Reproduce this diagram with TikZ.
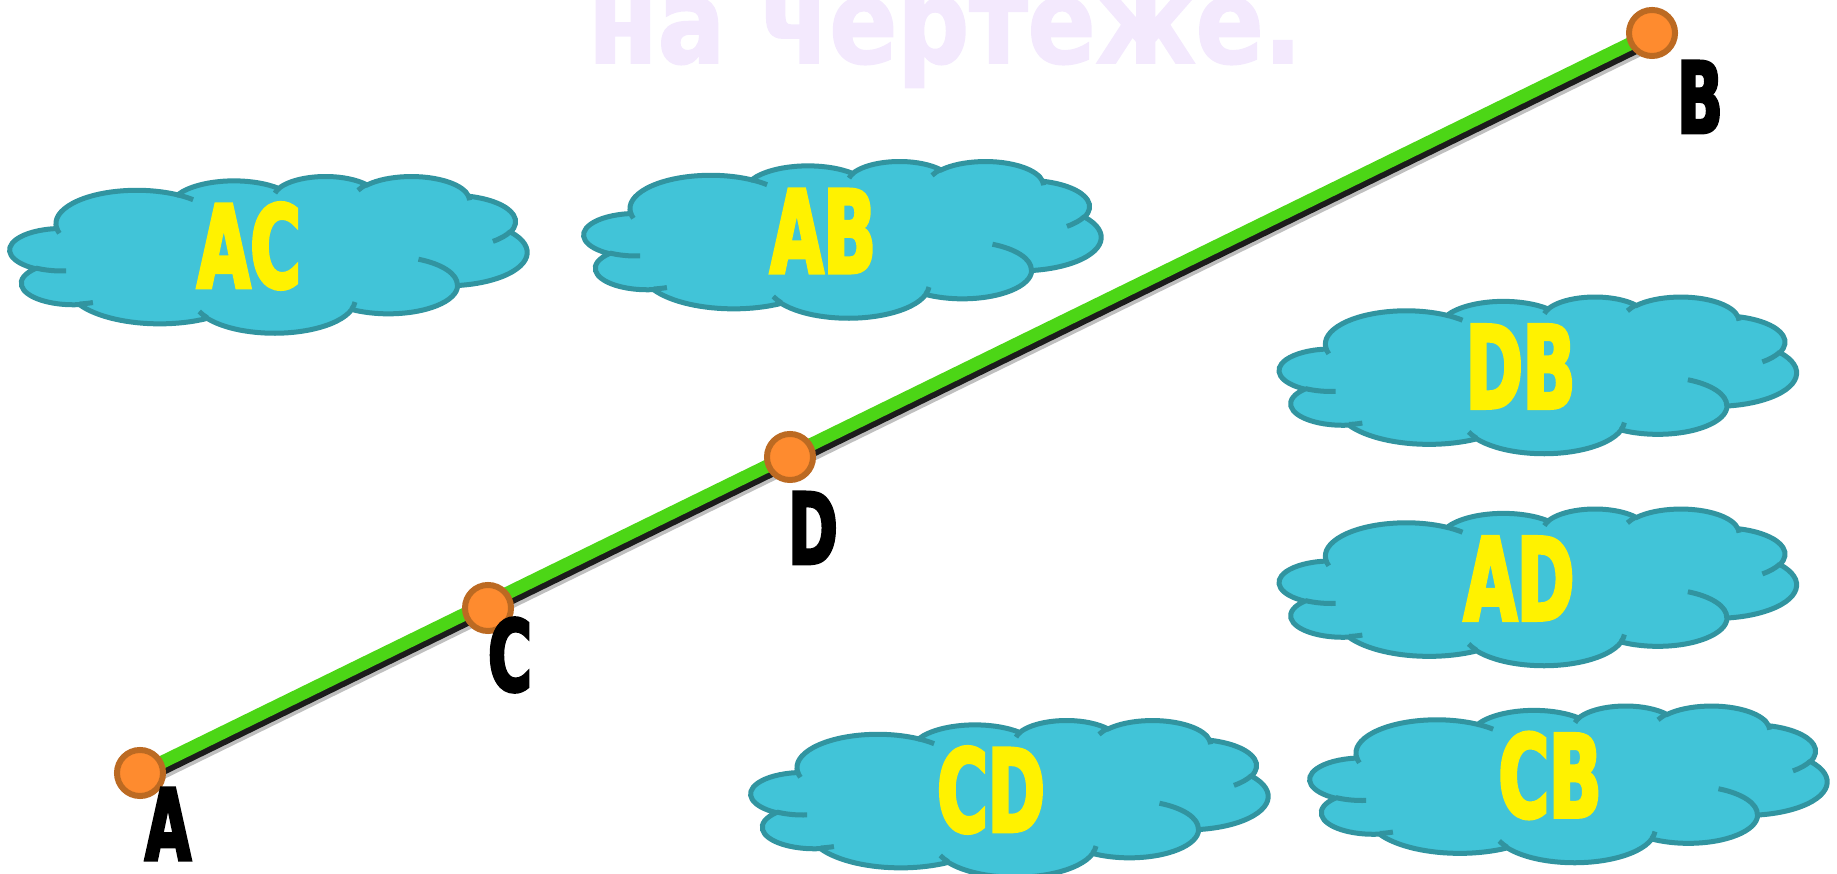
\documentclass[tikz,border=0pt]{standalone}
\usepackage{fontspec}
\usepackage{tikz}
\newfontfamily\heavyfont{DejaVu Sans}[FakeStretch=0.6, FakeBold=3]
\newfontfamily\titlefont{DejaVu Sans}[FakeStretch=0.85, FakeBold=1.5]
\definecolor{cloudfill}{HTML}{41C4D8}
\definecolor{cloudedge}{HTML}{3194A0}
\definecolor{segcol}{HTML}{4CD616}
\definecolor{ptfill}{HTML}{FE8B2F}
\definecolor{ptedge}{HTML}{BC6A22}
\definecolor{faded}{HTML}{F3E9FD}

% angle on the ellipse seen from its centre -> angle of the parametrisation
\pgfmathdeclarefunction{visang}{3}{%
  \pgfmathparse{#3+atan((#1-#2)*sin(#3)*cos(#3)/(#2*cos(#3)^2+#1*sin(#3)^2))}%
}

\tikzset{
  carc/.style n args={4}{insert path={arc[x radius=#1, y radius=#2,
      start angle={visang(#1,#2,#3)}, end angle={visang(#1,#2,#3+#4)}]}},
  cloudline/.style={draw=cloudedge, line width=0.05cm},
  cloudpic/.pic={
    \filldraw[cloudline, fill=cloudfill] (3.9,14.37)
      [carc={6.753}{9.19}{-190.4875}{123.7805}]
      [carc={5.333}{7.267}{-144.1024}{89.9452}]
      [carc={4.365}{5.945}{-145.8079}{99.7230}]
      [carc={4.857}{6.595}{-130.9861}{117.2417}]
      [carc={5.333}{7.273}{-78.7089}{109.0269}]
      [carc={6.775}{9.22}{-46.2673}{130.2690}]
      [carc={5.785}{7.867}{0.6250}{114.0333}]
      [carc={6.752}{9.215}{22.4516}{115.1726}]
      [carc={7.72}{10.543}{66.2426}{75.7110}]
      [carc={4.36}{5.918}{-274.9421}{146.7356}]
      [carc={4.345}{5.945}{-246.8285}{152.5189}] -- cycle;
    \draw[cloudline]
      (4.693,26.177) [carc={4.345}{5.945}{86.7420}{26.4295}]
      (6.928,34.899) [carc={4.36}{5.918}{73.6105}{11.4475}]
      (16.478,39.09) [carc={6.752}{9.215}{137.6242}{14.0811}]
      (28.827,34.751) [carc={6.752}{9.215}{6.4533}{15.9984}]
      (34.129,22.954) [carc={5.785}{7.867}{-70.2924}{70.9174}]
      (41.798,15.354) [carc={5.333}{7.273}{30.3180}{27.7515}]
      (38.324,5.426) [carc={4.857}{6.595}{-13.7443}{14.8642}]
      (29.078,3.952) [carc={4.857}{6.595}{-149.1815}{18.1906}]
      (22.141,4.72) [carc={4.365}{5.945}{-163.4943}{17.6864}]
      (14.0,5.192) [carc={6.753}{9.19}{-66.7070}{12.3194}]
      (4.127,15.789) [carc={6.753}{9.19}{157.6544}{11.8582}];
  },
  cloudtext/.style={font=\heavyfont\bfseries\fontsize{32.6pt}{35pt}\selectfont,
    text=yellow, inner sep=0pt},
  ptlabel/.style={font=\heavyfont\bfseries\fontsize{28.1pt}{30pt}\selectfont,
    text=black, inner sep=0pt},
  pt/.style={circle, draw=ptedge, fill=ptfill, line width=0.06cm,
    minimum size=0.46cm, inner sep=0pt},
  segline/.style={segcol, line width=0.13cm},
  segshadow/.style={black, line width=#1}
}

\begin{document}
\begin{tikzpicture}[x=0.01cm, y=-0.01cm]
  \useasboundingbox (0,0) rectangle (1837,874);
  \clip (0,0) rectangle (1837,874);

  \node[font=\titlefont\bfseries\fontsize{33.6pt}{36pt}\selectfont, text=faded,
    anchor=base, inner sep=0pt] (title) at (945,63) {на чертеже.};

  % clouds with the segments
  \pic[xscale=11.968, yscale=3.627] at (10,176) {cloudpic};
  \pic[xscale=11.968, yscale=3.627] at (584,161) {cloudpic};
  \pic[xscale=11.968, yscale=3.627] at (1279.4,296.5) {cloudpic};
  \pic[xscale=11.968, yscale=3.627] at (1279.4,508.5) {cloudpic};
  \pic[xscale=11.968, yscale=3.627] at (1310,705.5) {cloudpic};
  \pic[xscale=11.968, yscale=3.627] at (751,720) {cloudpic};
  \node[cloudtext] (ac) at (249,246) {AC};
  \node[cloudtext] (ab) at (823,231) {AB};
  \node[cloudtext] (db) at (1520.5,366.5) {DB};
  \node[cloudtext] (ad) at (1519,578.5) {AD};
  \node[cloudtext] (cb) at (1550,775.5) {CB};
  \node[cloudtext] (cd) at (991,790) {CD};

  % the segment
  \coordinate (a) at (140,773);
  \coordinate (b) at (1652,33);
  \draw[segshadow=0.15cm, opacity=0.25] ([shift={(3,8)}]a) -- ([shift={(3,8)}]b);
  \draw[segshadow=0.13cm, opacity=0.85] ([shift={(2,5.5)}]a) -- ([shift={(2,5.5)}]b);
  \draw[segline] (a) -- (b);

  \node[pt] (ptA) at (a) {};
  \node[pt] (ptC) at (488,608) {};
  \node[pt] (ptD) at (790,457) {};
  \node[pt] (ptB) at (b) {};

  \node[ptlabel] (lblA) at (168,824) {A};
  \node[ptlabel] (lblC) at (510,655) {C};
  \node[ptlabel] (lblD) at (813,528) {D};
  \node[ptlabel] (lblB) at (1700,97) {B};
\end{tikzpicture}
\end{document}
